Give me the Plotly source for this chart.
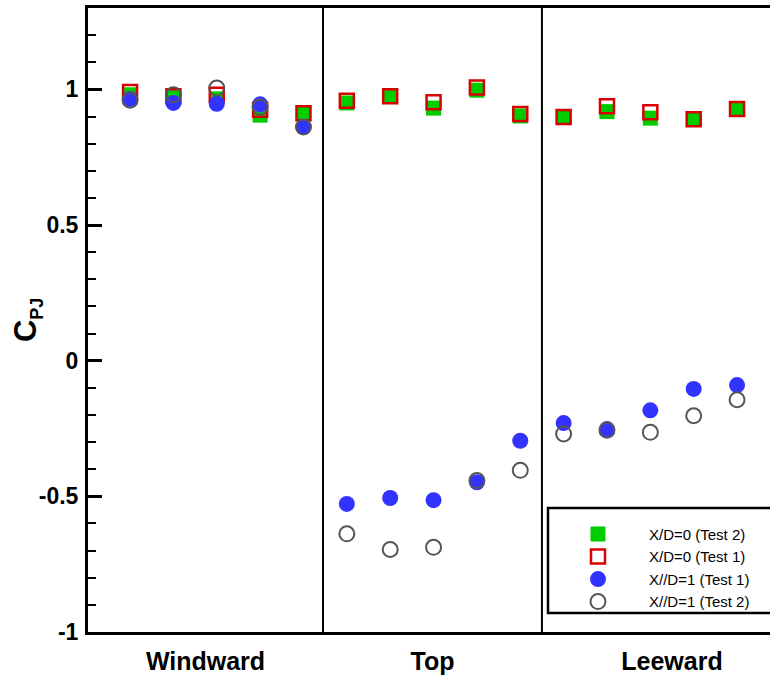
import plotly.graph_objects as go

# Pressure-tap positions around the model (1-5 windward, 6-10 top, 11-15 leeward)
positions = list(range(1, 16))

cpj_xd0_test2 = [0.980, 0.970, 0.965, 0.905, 0.912, 0.950, 0.975, 0.931, 0.997, 0.902,
                 0.897, 0.918, 0.894, 0.890, 0.928]
cpj_xd0_test1 = [0.990, 0.975, 0.980, 0.925, 0.912, 0.958, 0.975, 0.953, 1.007, 0.909,
                 0.898, 0.938, 0.916, 0.890, 0.928]
cpj_xd1_test1 = [0.965, 0.950, 0.947, 0.945, 0.861, -0.528, -0.506, -0.514, -0.448, -0.295,
                 -0.230, -0.252, -0.183, -0.104, -0.090]
cpj_xd1_test2 = [0.960, 0.980, 1.005, 0.935, 0.861, -0.638, -0.696, -0.688, -0.442, -0.404,
                 -0.270, -0.256, -0.264, -0.203, -0.144]

series_names = ["X/D=0 (Test 2)", "X/D=0 (Test 1)", "X//D=1 (Test 1)", "X//D=1 (Test 2)"]

# Face boundaries along the tap axis and the face names
face_edges = [0.03, 5.45, 10.5, 16.5]
face_names = ["Windward", "Top", "Leeward"]

y_ticks = [-1, -0.5, 0, 0.5, 1]
y_ticktext = ["-1", "-0.5", "0", "0.5", "1"]
y_title = "C<sub><span style='font-size:18px'>PJ</span></sub>"

FONT = "Liberation Sans, Arial, sans-serif"

fig = go.Figure()

styles = [
    dict(symbol="square", size=15, color="#00cc00", line=dict(width=0)),
    dict(symbol="square-open", size=14, color="#d80000", line=dict(width=2.5, color="#d80000")),
    dict(symbol="circle", size=16, color="#3333ff", line=dict(width=0)),
    dict(symbol="circle-open", size=15, color="#555555", line=dict(width=2, color="#555555")),
]
for name, vals, mk in zip(series_names,
                          [cpj_xd0_test2, cpj_xd0_test1, cpj_xd1_test1, cpj_xd1_test2],
                          styles):
    fig.add_trace(go.Scatter(x=positions, y=vals, mode="markers", name=name,
                             marker=mk, cliponaxis=False))

# Face dividers
for xv in face_edges[1:-1]:
    fig.add_shape(type="line", xref="x", yref="paper", x0=xv, x1=xv, y0=0, y1=1,
                  line=dict(color="black", width=2))

# Legend frame
fig.add_shape(type="rect", xref="paper", yref="paper", x0=0.6745, x1=1.02, y0=0.0304, y1=0.1987,
              line=dict(color="black", width=2.5), fillcolor="white", layer="above")

# Y-axis title, placed close to the tick labels
fig.add_annotation(text=y_title, xref="paper", yref="paper", x=-0.0894, y=0.5,
                   xanchor="center", yanchor="middle", textangle=-90, showarrow=False,
                   font=dict(family=FONT, size=31, color="black", weight="bold"))

face_centers = [(face_edges[i] + face_edges[i + 1]) / 2 for i in range(len(face_names))]

fig.update_xaxes(
    range=[face_edges[0], 15.76],
    tickmode="array", tickvals=face_centers, ticktext=face_names,
    ticks="", showgrid=False, zeroline=False,
    showline=True, linecolor="black", linewidth=3, mirror=True,
    tickfont=dict(family=FONT, size=25, color="black", weight="bold"),
    ticklabelstandoff=5,
)
fig.update_yaxes(
    range=[-1, 1.3],
    tickmode="array", tickvals=y_ticks, ticktext=y_ticktext,
    ticks="inside", ticklen=14, tickwidth=3, tickcolor="black",
    minor=dict(tick0=0, dtick=0.1, ticks="inside", ticklen=8, tickwidth=2, tickcolor="black",
               showgrid=False),
    showgrid=False, zeroline=False,
    showline=True, linecolor="black", linewidth=3, mirror=False,
    tickfont=dict(family=FONT, size=23, color="black", weight="bold"),
    ticklabelstandoff=2,
)

fig.update_layout(
    width=770, height=675,
    margin=dict(l=88, r=0, t=8, b=43),
    paper_bgcolor="white", plot_bgcolor="white",
    showlegend=True,
    legend=dict(x=0.673, y=0.183, xanchor="left", yanchor="top",
                bgcolor="rgba(0,0,0,0)", borderwidth=0, itemwidth=92,
                font=dict(family=FONT, size=15, color="black"),
                tracegroupgap=0),
)

fig.write_html("out.html")
